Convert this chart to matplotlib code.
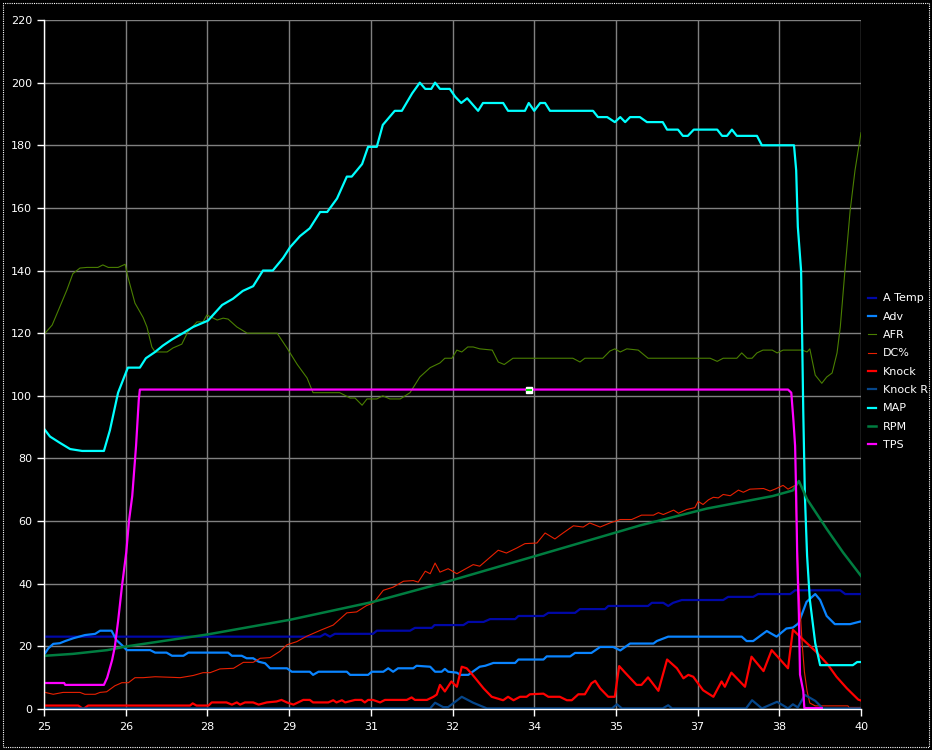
import matplotlib
matplotlib.use("Agg")
import matplotlib.pyplot as plt
from matplotlib.patches import Rectangle

# --- data (time axis 25..40) ---
a_temp_x = [25.0, 30.07, 30.16, 30.25, 30.34, 31.04, 31.11, 31.72, 31.81, 32.12, 32.17, 32.70, 32.79, 33.07, 33.19,
            33.65, 33.71, 34.17, 34.26, 34.75, 34.84, 35.30, 35.36, 36.09, 36.16, 36.37, 36.46, 36.55, 36.71,
            37.47, 37.56, 38.02, 38.11, 38.70, 38.79, 39.62, 39.71, 40.0]
a_temp_y = [23.1, 23.1, 24.0, 23.1, 24.0, 24.0, 25.0, 25.0, 25.9, 25.9, 26.8, 26.8, 27.8, 27.8, 28.7,
            28.7, 29.7, 29.7, 30.7, 30.7, 31.9, 31.9, 32.9, 32.9, 33.9, 33.9, 32.9, 33.9, 34.8,
            34.8, 35.8, 35.8, 36.7, 36.7, 37.9, 37.9, 36.7, 36.7]

adv_x = [25.02, 25.08, 25.17, 25.29, 25.39, 25.54, 25.75, 25.94, 26.03, 26.24, 26.33, 26.43, 26.52, 26.95, 27.04,
         27.25, 27.35, 27.56, 27.65, 28.38, 28.45, 28.63, 28.72, 28.84, 28.94, 29.06, 29.15, 29.46, 29.55,
         29.88, 29.94, 30.04, 30.56, 30.62, 30.95, 31.02, 31.23, 31.32, 31.41, 31.50, 31.78, 31.84, 32.09,
         32.18, 32.30, 32.36, 32.42, 32.58, 32.64, 32.79, 32.91, 33.00, 33.10, 33.25, 33.65, 33.71, 34.17,
         34.23, 34.66, 34.75, 35.05, 35.21, 35.45, 35.58, 35.76, 36.19, 36.25, 36.46, 37.81, 37.90, 38.02,
         38.27, 38.45, 38.63, 38.75, 38.85, 39.00, 39.16, 39.25, 39.37, 39.52, 39.80, 39.98]
adv_y = [17.8, 19.4, 20.8, 21.0, 21.7, 22.6, 23.6, 24.0, 25.0, 25.0, 22.0, 20.4, 18.8, 18.8, 18.0,
         18.0, 17.0, 17.0, 18.0, 18.0, 17.0, 17.0, 16.2, 16.2, 15.1, 14.6, 13.0, 13.0, 11.9,
         11.9, 10.9, 11.9, 11.9, 10.9, 10.9, 11.9, 11.9, 13.0, 11.9, 13.0, 13.0, 13.8, 13.5,
         11.9, 11.9, 12.8, 11.9, 11.6, 10.9, 10.9, 12.4, 13.5, 13.8, 14.7, 14.7, 15.8, 15.8,
         16.8, 16.8, 17.9, 17.9, 19.8, 19.8, 18.7, 20.9, 20.9, 21.7, 23.1, 23.1, 21.7, 21.7,
         24.9, 23.1, 25.7, 26.0, 27.3, 34.2, 36.7, 34.8, 29.7, 27.1, 27.1, 27.9]

afr_x = [25.02, 25.15, 25.29, 25.42, 25.53, 25.66, 25.79, 25.99, 26.08, 26.18, 26.36, 26.49, 26.54, 26.67, 26.82,
         26.89, 26.98, 27.04, 27.26, 27.37, 27.53, 27.64, 27.81, 27.92, 27.99, 28.18, 28.29, 28.38, 28.54,
         28.73, 29.28, 29.46, 29.65, 29.83, 29.94, 30.43, 30.62, 30.71, 30.84, 30.93, 31.11, 31.22, 31.35,
         31.54, 31.72, 31.90, 32.09, 32.27, 32.36, 32.49, 32.58, 32.67, 32.78, 32.88, 33.00, 33.23, 33.34,
         33.45, 33.61, 34.71, 34.84, 34.93, 35.26, 35.39, 35.48, 35.58, 35.70, 35.91, 36.09, 37.23, 37.36,
         37.47, 37.72, 37.81, 37.91, 38.00, 38.09, 38.20, 38.37, 38.46, 38.57, 38.92, 39.01, 39.06, 39.16,
         39.28, 39.37, 39.47, 39.56, 39.62, 39.71, 39.80, 39.89, 40.0]
afr_y = [120, 122.6, 128.4, 133.8, 139, 140.8, 141, 141, 141.8, 141, 141, 142, 138, 129.6, 125,
         122, 115.6, 114, 114, 115.3, 116.5, 120.4, 123.6, 123.6, 125.8, 124.2, 124.8, 124.5, 122,
         120, 120, 115.3, 110, 105.7, 101, 101, 99.3, 99.3, 97, 99, 99, 100, 99,
         99, 101, 106, 109, 110.5, 112, 112, 114.6, 114, 115.6, 115.6, 115, 114.6, 110.8,
         110, 112, 112, 110.8, 112, 112, 114.3, 115, 114, 115, 114.6, 112, 112, 111,
         112, 112, 113.7, 112, 112, 113.7, 114.6, 114.6, 113.7, 114.6, 114.6, 114, 115, 106.6,
         104, 106, 107.3, 113.7, 122, 141, 159, 172, 184]

dc_x = [25.02, 25.17, 25.35, 25.66, 25.75, 25.94, 26.03, 26.15, 26.30, 26.43, 26.55, 26.67, 26.82, 27.04, 27.37,
        27.50, 27.74, 27.92, 28.05, 28.23, 28.48, 28.66, 28.84, 28.97, 29.15, 29.33, 29.46, 29.64, 29.82,
        30.07, 30.31, 30.56, 30.74, 30.92, 31.05, 31.23, 31.41, 31.60, 31.78, 31.87, 32.00, 32.09, 32.18,
        32.27, 32.42, 32.58, 32.88, 33.00, 33.34, 33.49, 33.68, 33.83, 34.05, 34.20, 34.38, 34.53, 34.72,
        34.90, 35.02, 35.21, 35.39, 35.58, 35.79, 35.97, 36.19, 36.28, 36.37, 36.56, 36.65, 36.80, 36.95,
        37.01, 37.10, 37.20, 37.29, 37.38, 37.47, 37.60, 37.75, 37.84, 37.96, 38.21, 38.33, 38.42, 38.57,
        38.66, 38.79, 38.81, 38.83, 38.86, 38.92, 38.96, 39.01, 39.06, 39.16, 39.76, 39.78, 40.0]
dc_y = [5.3, 4.7, 5.3, 5.3, 4.7, 4.7, 5.3, 5.5, 7.4, 8.4, 8.4, 10, 10, 10.3, 10.1,
        10, 10.7, 11.6, 11.6, 12.8, 13, 14.9, 14.9, 16.2, 16.4, 18.4, 20.5, 21.5, 23.2,
        25.1, 26.8, 30.7, 31, 33, 33.9, 37.9, 38.9, 40.8, 41, 40.5, 44, 43.2, 46.6,
        43.7, 44.8, 43.2, 46.1, 45.6, 50.7, 49.8, 51.4, 52.8, 53, 56.2, 54.3, 56.2, 58.5,
        58.1, 59.4, 58.1, 59.4, 60.5, 60.5, 61.9, 61.9, 62.7, 62.1, 63.5, 62.5, 63.7, 64.3,
        66.3, 65.3, 66.8, 67.6, 67.4, 68.5, 68.1, 69.9, 69.2, 70.2, 70.4, 69.6, 70.2, 71.4,
        70.2, 71.4, 62, 52, 38, 20.8, 12, 5.7, 1.9, 1.0, 1.0, 0.5, 0.5]

knock_x = [25.02, 25.63, 25.72, 25.81, 27.68, 27.73, 27.80, 28.02, 28.08, 28.35, 28.45, 28.54, 28.60, 28.69, 28.84,
           28.94, 29.09, 29.27, 29.36, 29.46, 29.58, 29.76, 29.88, 29.94, 30.22, 30.31, 30.37, 30.47, 30.53,
           30.71, 30.83, 30.89, 30.95, 31.04, 31.17, 31.26, 31.66, 31.75, 31.81, 32.03, 32.15, 32.21, 32.27,
           32.36, 32.48, 32.58, 32.67, 32.76, 32.85, 33.07, 33.22, 33.43, 33.52, 33.62, 33.74, 33.86, 33.92,
           34.17, 34.26, 34.47, 34.60, 34.69, 34.81, 34.93, 35.05, 35.12, 35.21, 35.36, 35.48, 35.56, 35.67,
           35.88, 35.97, 36.09, 36.28, 36.44, 36.62, 36.74, 36.83, 36.92, 37.10, 37.29, 37.44, 37.50, 37.62,
           37.87, 37.99, 38.21, 38.36, 38.66, 38.75, 38.94, 39.18, 39.39, 39.55, 39.74, 39.95, 40.0]
knock_y = [1.1, 1.1, 0, 1.1, 1.1, 1.8, 1.1, 1.1, 2.1, 2.1, 1.4, 2.1, 1.4, 2.1, 2.1,
           1.4, 2.1, 2.4, 2.9, 2.1, 1.4, 2.9, 2.9, 2.1, 2.1, 2.8, 2.1, 2.8, 2.1,
           2.9, 2.9, 2.1, 2.9, 2.9, 2.1, 2.9, 2.9, 3.7, 2.9, 2.9, 3.9, 4.6, 7.7,
           5.6, 8.8, 7.1, 13.5, 13.0, 11.3, 6.6, 3.9, 2.8, 3.9, 2.8, 3.9, 3.9, 4.7,
           4.9, 3.9, 3.9, 2.8, 2.8, 4.7, 4.7, 8.2, 9.0, 6.6, 3.9, 3.9, 13.7, 11.6,
           7.7, 7.7, 10.1, 5.8, 15.8, 13.0, 9.8, 10.9, 10.3, 6.0, 3.9, 8.8, 7.1, 11.6,
           7.1, 16.7, 12.1, 18.8, 13.0, 25.3, 22.1, 18.2, 14.2, 10.3, 6.6, 3.0, 2.7]

knock_r_x = [25.0, 32.09, 32.18, 32.33, 32.42, 32.67, 32.88, 33.13, 35.43, 35.52, 35.61, 36.36, 36.46, 36.53,
             37.89, 38.00, 38.18, 38.46, 38.66, 38.75, 38.84, 38.97, 39.16, 39.30, 40.0]
knock_r_y = [0.2, 0.2, 2.0, 0.6, 0.6, 3.9, 2.0, 0.2, 0.2, 1.5, 0.2, 0.2, 1.2, 0.2,
             0.2, 2.8, 0.2, 2.3, 0.2, 1.5, 0.5, 4.5, 2.6, 0.2, 0.2]

map_x = [25.0, 25.11, 25.29, 25.48, 25.70, 26.10, 26.21, 26.36, 26.54, 26.76, 26.87, 27.04, 27.18, 27.35, 27.55,
         27.74, 28.01, 28.27, 28.47, 28.65, 28.84, 29.02, 29.20, 29.39, 29.52, 29.70, 29.88, 30.07, 30.20,
         30.38, 30.56, 30.65, 30.84, 30.95, 31.11, 31.22, 31.44, 31.57, 31.76, 31.90, 32.00, 32.11, 32.18,
         32.27, 32.45, 32.55, 32.66, 32.77, 32.97, 33.06, 33.43, 33.52, 33.83, 33.90, 34.00, 34.11, 34.20,
         34.29, 35.08, 35.17, 35.34, 35.48, 35.58, 35.67, 35.76, 35.94, 36.07, 36.36, 36.44, 36.64, 36.73,
         36.82, 36.93, 37.36, 37.45, 37.54, 37.63, 37.72, 38.09, 38.18, 38.77, 38.81, 38.84, 38.90, 38.92,
         38.94, 38.97, 39.01, 39.06, 39.16, 39.25, 39.85, 39.93, 40.0]
map_y = [89.5, 87, 85, 83, 82.4, 82.4, 89, 101, 109, 109, 112, 114, 116, 118, 120,
         122, 124, 129, 131, 133.5, 135, 140, 140, 144, 147.5, 151, 153.5, 158.7, 158.7,
         163, 170, 170, 174, 179.5, 179.5, 186.5, 191, 191, 196.6, 200, 198, 198, 200,
         198, 198, 195.5, 193.5, 195, 191, 193.5, 193.5, 191, 191, 193.5, 191, 193.5, 193.5,
         191, 191, 189, 189, 187.4, 189, 187.4, 189, 189, 187.4, 187.4, 185, 185, 183,
         183, 185, 185, 183, 183, 185, 183, 183, 180, 180, 172, 154, 140, 118,
         95, 68, 49, 35, 21, 14, 14, 15, 15]

rpm_x = [25.02, 25.53, 26.16, 26.52, 28.0, 29.52, 31.04, 32.27, 34.11, 35.94, 37.17, 38.38, 38.75, 38.86,
         39.01, 39.37, 39.67, 40.0]
rpm_y = [17.0, 17.6, 18.8, 20.0, 23.8, 28.5, 34.2, 40.0, 49.3, 58.6, 64.0, 68.0, 69.8, 72.8,
         67.0, 57.5, 50.0, 42.5]

tps_x = [25.0, 25.37, 25.39, 26.10, 26.16, 26.25, 26.30, 26.36, 26.43, 26.51, 26.56, 26.62, 26.69, 26.74, 26.76,
         38.66, 38.72, 38.76, 38.79, 38.81, 38.83, 38.86, 38.88, 38.94, 38.96, 39.28]
tps_y = [8.3, 8.3, 7.7, 7.7, 10, 15.6, 19.8, 28, 39, 50, 60, 68, 84, 98.7, 102,
         102, 101, 92, 84, 68, 48, 30, 11, 5.7, 0.3, 0.3]

cursor_x = [33.90]
cursor_y = [102]

x_ticks = [25, 26.5, 28, 29.5, 31, 32.5, 34, 35.5, 37, 38.5, 40]
x_labels = ['25', '26', '28', '29', '31', '32', '34', '35', '37', '38', '40']
y_ticks = list(range(0, 221, 20))

fig = plt.figure(figsize=(9.32, 7.5), dpi=100, facecolor='black')
ax = fig.add_axes([44 / 932, 1 - 709 / 750, 817 / 932, 689 / 750])
ax.set_facecolor('black')

ax.plot(a_temp_x, a_temp_y, color='#0008a8', lw=1.6, label='A Temp')
ax.plot(adv_x, adv_y, color='#0a84ff', lw=1.6, label='Adv')
ax.plot(afr_x, afr_y, color='#4a7f00', lw=0.8, label='AFR')
ax.plot(dc_x, dc_y, color='#e82000', lw=0.8, label='DC%')
ax.plot(knock_x, knock_y, color='#ff0000', lw=1.6, label='Knock')
ax.plot(knock_r_x, knock_r_y, color='#06468a', lw=1.6, label='Knock R')
ax.plot(map_x, map_y, color='#00ffff', lw=1.6, label='MAP')
ax.plot(rpm_x, rpm_y, color='#007d40', lw=1.8, label='RPM')
ax.plot(tps_x, tps_y, color='#ff00ff', lw=1.6, label='TPS')

# cursor marker
ax.plot(cursor_x, cursor_y, marker='s', ms=5, mfc='white', mec='white', ls='none')
ax.plot(cursor_x, cursor_y, marker='_', ms=4, mew=1.5, color='#00e000', ls='none')

ax.set_xlim(25, 40)
ax.set_ylim(0, 220)
ax.set_xticks(x_ticks)
ax.set_xticklabels(x_labels)
ax.set_yticks(y_ticks)
ax.grid(True, color='#808080', lw=1)
ax.set_axisbelow(True)
for s in ['top', 'right']:
    ax.spines[s].set_visible(False)
for s in ['left', 'bottom']:
    ax.spines[s].set_color('white')
    ax.spines[s].set_linewidth(1)
ax.tick_params(colors='white', labelsize=8, length=5, width=1, direction='out')
ax.tick_params(axis='x', pad=4)

leg = fig.legend(loc='upper left', bbox_to_anchor=(864 / 932, 1 - 289 / 750), frameon=False,
                 fontsize=8, labelcolor='white', handlelength=0.7, handletextpad=0.6,
                 labelspacing=0.75, borderaxespad=0)

fig.patches.append(Rectangle((0.003, 0.004), 0.994, 0.992, transform=fig.transFigure, fill=False,
                             ec='white', lw=0.8, ls=(0, (1, 1))))

fig.savefig('out.png', dpi=100, facecolor='black')
